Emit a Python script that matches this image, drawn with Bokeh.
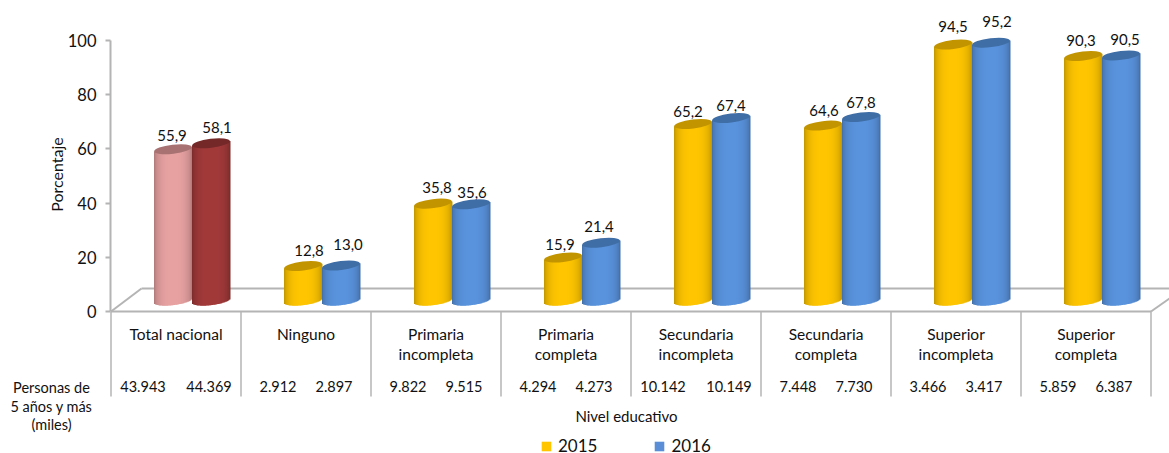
import math
from bokeh.plotting import figure
from bokeh.models import Legend, LegendItem
from bokeh.core.properties import value
from bokeh.embed import file_html
from bokeh.resources import INLINE

categories = [["Total nacional"], ["Ninguno"], ["Primaria", "incompleta"], ["Primaria", "completa"],
              ["Secundaria", "incompleta"], ["Secundaria", "completa"], ["Superior", "incompleta"], ["Superior", "completa"]]
pct_2015 = [55.9, 12.8, 35.8, 15.9, 65.2, 64.6, 94.5, 90.3]
pct_2016 = [58.1, 13.0, 35.6, 21.4, 67.4, 67.8, 95.2, 90.5]
people_2015 = ["43.943", "2.912", "9.822", "4.294", "10.142", "7.448", "3.466", "5.859"]
people_2016 = ["44.369", "2.897", "9.515", "4.273", "10.149", "7.730", "3.417", "6.387"]
y_ticks = [0, 20, 40, 60, 80, 100]
row_title = ["Personas de", "5 años y más", "(miles)"]

FONT = "Lato"
PX_Y = 2.71          # pixels per percentage point
PX_X = 130.0         # pixels per category
DEPTH = 4.0          # 3-D floor lift of the cylinders, in axis units
GREY = "#b4b4b4"
Y2015, B2016 = ("#FFC600", "#C29400"), ("#5A94DE", "#3F6EA6")
PINK, WINE = ("#E8A2A2", "#A87272"), ("#A33A3A", "#742828")

# hand-placed data label nudges of the reference (pixels)
dx_2015 = [-1, 6, 4, -3, -5, 1, 0, -2]
dx_2016 = [6, 7, 1, -2, 0, 0, 6, 4]
dy_2015 = [14, 15, 16, 13, 12, 15, 18, 15]
dy_2016 = [16, 21, 12, 16, 13, 14, 21, 16]

xdata = lambda px: (px - 110.5) / PX_X
ydata = lambda py: (311 - py) / PX_Y

p = figure(width=1169, height=453, output_backend="svg", toolbar_location=None,
           x_range=(xdata(0), xdata(1169)), y_range=(ydata(453), ydata(0)),
           min_border_left=0, min_border_right=0, min_border_top=0, min_border_bottom=0)
p.xaxis.visible = False
p.grid.visible = False
p.outline_line_color = None
p.background_fill_color = None

ax = p.yaxis[0]
ax.fixed_location = xdata(110)
ax.ticker = y_ticks
ax.bounds = (0, 100)
ax.axis_line_color = GREY
ax.axis_line_width = 2
ax.major_tick_line_color = GREY
ax.major_tick_line_width = 2
ax.major_tick_out = 5
ax.major_tick_in = 0
ax.minor_tick_line_color = None
ax.major_label_text_font = FONT
ax.major_label_text_font_size = "16.5px"
ax.major_label_text_color = "#111111"
ax.major_label_standoff = 9

# floor and table rules
n = len(categories)
p.segment(x0=[0, 0, xdata(141), n], y0=[0, 0, ydata(288), 0],
          x1=[n, xdata(141), xdata(1169), xdata(1169)], y1=[0, ydata(288), ydata(288), ydata(298)],
          line_color=GREY, line_width=2)
p.segment(x0=list(range(n + 1)), y0=[0] * (n + 1), x1=list(range(n + 1)), y1=[ydata(396)] * (n + 1),
          line_color=GREY, line_width=1.5)


def shade(col, f):
    c = [int(col[i:i + 2], 16) for i in (1, 3, 5)]
    return "#%02x%02x%02x" % tuple(int(v * f) for v in c)


def cylinders(values, offset, palettes):
    W, A, B, TILT = 38, 19.0, 4.5, 0.12
    L, R, T, Bt, C = [], [], [], [], []
    ex, ey, ec = [], [], []
    for i, v in enumerate(values):
        cx = i + 0.5 + offset / PX_X
        body, top = palettes[i]
        for s in range(W):
            t = (s + 0.5 - W / 2) / (W / 2)
            f = 0.70 + 0.30 * math.sqrt(max(0, 1 - min(1, abs(t)) ** 2.4))
            dx = t * A
            L.append(cx + (dx - 0.5) / PX_X)
            R.append(cx + (dx + 1.0) / PX_X)
            T.append(v + DEPTH + TILT * dx / PX_Y)
            Bt.append(DEPTH + (TILT * dx - B * math.sqrt(max(0, 1 - t * t))) / PX_Y)
            C.append(shade(body, f))
        ex.append(cx)
        ey.append(v + DEPTH)
        ec.append(top)
    p.quad(left=L, right=R, top=T, bottom=Bt, fill_color=C, line_color=None)
    p.ellipse(x=ex, y=ey, width=W, height=2 * B, width_units="screen", height_units="screen",
              angle=TILT, fill_color=ec, line_color=None)


cylinders(pct_2015, -3, [PINK] + [Y2015] * 7)
cylinders(pct_2016, 35, [WINE] + [B2016] * 7)


def txt(x, y, text, size, **kw):
    p.text(x=x, y=y, text=text, text_font=value(FONT), text_font_size=size, text_color="#111111",
           text_align="center", text_baseline="middle", **kw)


# data labels
for vals, off, dxs, dys in ((pct_2015, -3, dx_2015, dy_2015), (pct_2016, 35, dx_2016, dy_2016)):
    txt([i + 0.5 + (off + d) / PX_X for i, d in enumerate(dxs)],
        [v + DEPTH + d / PX_Y for v, d in zip(vals, dys)],
        [f"{v:.1f}".replace(".", ",") for v in vals], "15px")

# table labels
cx, cy, ct = [], [], []
for i, lines in enumerate(categories):
    for j, line in enumerate(lines):
        cx.append(i + 0.5)
        cy.append(ydata(333 + 20 * j))
        ct.append(line)
txt(cx, cy, ct, "15.5px")
for arr, sign in ((people_2015, -1), (people_2016, 1)):
    txt([i + 0.5 + sign * (33 if len(a) == 6 and a[2] == "." else 28) / PX_X for i, a in enumerate(arr)],
        [ydata(385.5)] * n, arr, "14.5px")

txt([xdata(626)], [ydata(415)], ["Nivel educativo"], "15px")
txt([xdata(56)], [ydata(174)], ["Porcentaje"], "16px", angle=math.pi / 2)
txt([xdata(51)] * 3, [ydata(py) for py in (387, 406, 424)], row_title, "14.5px")

# legend: the swatches' source row lies outside the visible range
r15 = p.quad(left=[-5], right=[-4], top=[-200], bottom=[-201], fill_color=Y2015[0], line_color=None)
r16 = p.quad(left=[-5], right=[-4], top=[-200], bottom=[-201], fill_color="#5A8FD8", line_color=None)
leg = Legend(items=[LegendItem(label="2015", renderers=[r15], index=0), LegendItem(label="2016", renderers=[r16], index=0)],
             orientation="horizontal", location=(540, -3), glyph_width=12, glyph_height=12,
             spacing=56, label_standoff=6, padding=0, margin=0, border_line_color=None,
             background_fill_color=None, background_fill_alpha=0,
             label_text_font=FONT, label_text_font_size="17px", label_text_color="#111111")
p.add_layout(leg, "center")

open("out.html", "w").write(file_html(p, INLINE))
